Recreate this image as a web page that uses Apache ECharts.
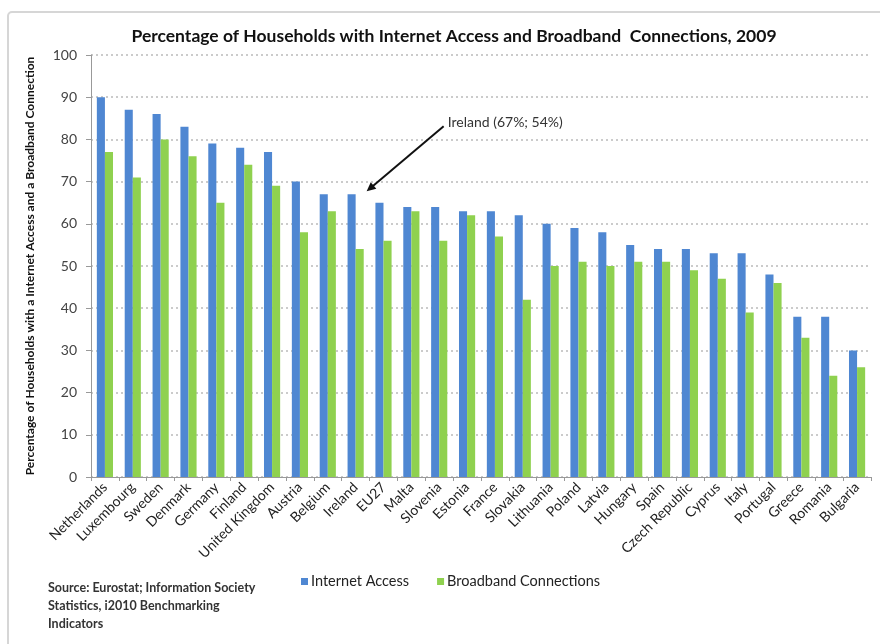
<!DOCTYPE html>
<html>
<head>
<meta charset="utf-8">
<script src="https://cdn.jsdelivr.net/npm/echarts@6/dist/echarts.min.js"></script>
<style>
  html, body { margin: 0; padding: 0; background: #fff; }
  #chart { width: 880px; height: 644px; }
</style>
</head>
<body>
<div id="chart"></div>
<script>
// Household internet access vs. broadband, EU member states, 2009 (%)
const countries = ['Netherlands', 'Luxembourg', 'Sweden', 'Denmark', 'Germany', 'Finland',
  'United Kingdom', 'Austria', 'Belgium', 'Ireland', 'EU27', 'Malta', 'Slovenia', 'Estonia',
  'France', 'Slovakia', 'Lithuania', 'Poland', 'Latvia', 'Hungary', 'Spain', 'Czech Republic',
  'Cyprus', 'Italy', 'Portugal', 'Greece', 'Romania', 'Bulgaria'];
const internetAccess = [90, 87, 86, 83, 79, 78, 77, 70, 67, 67, 65, 64, 64, 63, 63, 62, 60, 59,
  58, 55, 54, 54, 53, 53, 48, 38, 38, 30];
const broadband = [77, 71, 80, 76, 65, 74, 69, 58, 63, 54, 56, 63, 56, 62, 57, 42, 50, 51, 50,
  51, 51, 49, 47, 39, 46, 33, 24, 26];
const yTicks = { min: 0, max: 100, interval: 10 };
const highlight = 'Ireland';

const FONT = 'Lato, "Open Sans", sans-serif';
const BLUE = '#4F87D2';
const GREEN = '#8FD14F';

const chart = echarts.init(document.getElementById('chart'), null, { renderer: 'canvas' });

const hi = countries.indexOf(highlight);
const noteText = highlight + ' (' + internetAccess[hi] + '%; ' + broadband[hi] + '%)';

chart.setOption({
  animation: false,
  textStyle: { fontFamily: FONT },
  title: {
    text: 'Percentage of Households with Internet Access and Broadband  Connections, 2009',
    left: 449, top: 22, textAlign: 'center',
    textStyle: { fontFamily: FONT, fontSize: 17.5, fontWeight: 'bold', color: '#111' }
  },
  legend: {
    left: 296, top: 569, itemWidth: 7, itemHeight: 7, itemGap: 28,
    icon: 'rect',
    textStyle: { fontFamily: FONT, fontSize: 14.5, color: '#222', padding: [0, 0, 0, -2] },
    data: ['Internet Access', 'Broadband Connections']
  },
  grid: { left: 91, right: 9, top: 55, bottom: 167, containLabel: false },
  xAxis: {
    type: 'category',
    data: countries,
    axisLine: { lineStyle: { color: '#999' } },
    axisTick: { show: true, alignWithLabel: false, length: 4, lineStyle: { color: '#999' } },
    axisLabel: { rotate: 45, interval: 0, fontSize: 14, color: '#222', margin: 8, fontFamily: FONT }
  },
  yAxis: {
    type: 'value',
    min: yTicks.min, max: yTicks.max, interval: yTicks.interval,
    name: 'Percentage of Households with a Internet Access and a Broadband Connection',
    nameLocation: 'middle', nameGap: 55, nameRotate: 90,
    nameTextStyle: { fontFamily: FONT, fontSize: 12, fontWeight: 'bold', color: '#111' },
    axisLine: { show: true, lineStyle: { color: '#999' } },
    axisTick: { show: true, length: 5, lineStyle: { color: '#999' } },
    axisLabel: { fontSize: 14, color: '#444', margin: 14, fontFamily: FONT },
    splitLine: { show: true, lineStyle: { color: '#bbb', type: [2, 3], width: 1.5 } }
  },
  series: [
    {
      name: 'Internet Access', type: 'bar', data: internetAccess,
      itemStyle: { color: BLUE }, barGap: '0%', barCategoryGap: '42%'
    },
    {
      name: 'Broadband Connections', type: 'bar', data: broadband,
      itemStyle: { color: GREEN }, barGap: '0%', barCategoryGap: '42%'
    }
  ]
});

// Callout arrow pointing at the highlighted country's internet access bar
const tip = chart.convertToPixel({ seriesIndex: 0 }, [highlight, internetAccess[hi]]);
const tipX = tip[0] + 11, tipY = tip[1] - 3;
const tailX = tipX + 77, tailY = tipY - 65;
const ang = Math.atan2(tailY - tipY, tailX - tipX);
const hl = 10, hw = 0.45;
chart.setOption({
  graphic: [
    {
      type: 'rect', shape: { x: 8, y: 12, width: 900, height: 700, r: 4 },
      style: { fill: null, stroke: '#d6d6d6', lineWidth: 2 }, silent: true, z: -1
    },
    {
      type: 'line',
      shape: { x1: tailX, y1: tailY, x2: tipX + Math.cos(ang) * 4, y2: tipY + Math.sin(ang) * 4 },
      style: { stroke: '#111', lineWidth: 2 }
    },
    {
      type: 'polygon',
      shape: {
        points: [
          [tipX, tipY],
          [tipX + hl * Math.cos(ang + hw), tipY + hl * Math.sin(ang + hw)],
          [tipX + hl * Math.cos(ang - hw), tipY + hl * Math.sin(ang - hw)]
        ]
      },
      style: { fill: '#111' }
    },
    {
      type: 'text', x: tailX + 4, y: tailY - 4,
      style: { text: noteText, font: '14px ' + FONT, fill: '#333', textVerticalAlign: 'middle' }
    },
    {
      type: 'text', x: 48, y: 579,
      style: {
        text: 'Source: Eurostat; Information Society\nStatistics, i2010 Benchmarking\nIndicators',
        font: 'bold 12.5px ' + FONT, fill: '#333', lineHeight: 18
      }
    }
  ]
});
</script>
</body>
</html>
